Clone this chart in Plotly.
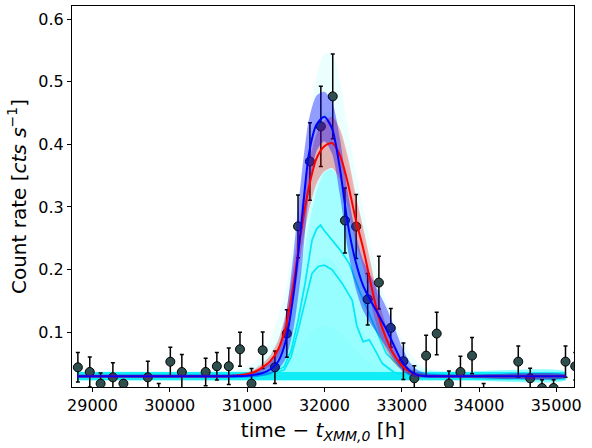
import plotly.graph_objects as go

# ---------------- observed light curve ----------------
t_obs = [28811, 28965, 29105, 29264, 29400, 29716, 29857, 30007, 30156, 30464,
         30609, 30763, 30908, 31057, 31202, 31360, 31514, 31659, 31813, 31954,
         32108, 32266, 32411, 32560, 32705, 32859, 33022, 33163, 33316, 33453,
         33611, 33760, 33910, 34060, 34508, 34662, 34815, 34965, 35119, 35245]
rate_obs = [0.044, 0.0366, 0.018, 0.028, 0.018, 0.028, 0.0, 0.053, 0.0366, 0.0366,
            0.0457, 0.0457, 0.0728, 0.018, 0.0712, 0.0441, 0.098, 0.269, 0.3726, 0.4285,
            0.4765, 0.2784, 0.2688, 0.1527, 0.1793, 0.1069, 0.0537, 0.0265, 0.0627, 0.0979,
            0.018, 0.0366, 0.0627, 0.0, 0.0531, 0.0265, 0.011, 0.011, 0.0531, 0.0457]
err_obs = [0.0235, 0.024, 0.017, 0.0235, 0.006, 0.0256, 0.018, 0.023, 0.028, 0.022,
           0.022, 0.029, 0.027, 0.024, 0.029, 0.026, 0.038, 0.050, 0.062, 0.064,
           0.0676, 0.052, 0.051, 0.041, 0.042, 0.031, 0.029, 0.020, 0.0325, 0.034,
           0.020, 0.025, 0.029, 0.018, 0.025, 0.016, 0.013, 0.013, 0.025, 0.022]

# ---------------- model grid ----------------
t_model = [28800, 30600, 30800, 31000, 31100, 31200, 31300, 31400, 31500, 31600,
           31700, 31800, 31900, 32000, 32100, 32200, 32300, 32400, 32500, 32600,
           32700, 32800, 32900, 33000, 33100, 33200, 33300, 33500, 33800, 35120]

blue_med = [0.0297, 0.0297, 0.0298, 0.0305, 0.032, 0.035, 0.041, 0.053, 0.086, 0.16,
            0.27, 0.385, 0.432, 0.444, 0.425, 0.362, 0.275, 0.215, 0.175, 0.15,
            0.128, 0.105, 0.079, 0.054, 0.039, 0.032, 0.030, 0.0297, 0.0297, 0.0297]
blue_lo = [0.027, 0.027, 0.027, 0.0275, 0.028, 0.030, 0.033, 0.040, 0.058, 0.105,
           0.195, 0.32, 0.39, 0.405, 0.385, 0.32, 0.235, 0.172, 0.135, 0.113,
           0.095, 0.076, 0.056, 0.040, 0.031, 0.028, 0.027, 0.027, 0.027, 0.027]
blue_hi = [0.0325, 0.0325, 0.033, 0.034, 0.037, 0.042, 0.052, 0.074, 0.125, 0.225,
           0.345, 0.44, 0.478, 0.484, 0.468, 0.41, 0.325, 0.26, 0.215, 0.19,
           0.165, 0.14, 0.11, 0.078, 0.053, 0.040, 0.035, 0.033, 0.0325, 0.0325]

red_med = [0.0297, 0.0297, 0.030, 0.033, 0.037, 0.044, 0.054, 0.072, 0.108, 0.176,
           0.262, 0.332, 0.378, 0.397, 0.402, 0.383, 0.34, 0.283, 0.235, 0.178,
           0.125, 0.09, 0.064, 0.047, 0.037, 0.032, 0.030, 0.0297, 0.0297, 0.0297]
red_lo = [0.0275, 0.0275, 0.028, 0.030, 0.033, 0.038, 0.046, 0.06, 0.088, 0.148,
          0.228, 0.295, 0.338, 0.357, 0.362, 0.343, 0.3, 0.246, 0.203, 0.148,
          0.1, 0.071, 0.051, 0.039, 0.032, 0.029, 0.028, 0.0275, 0.0275, 0.0275]
red_hi = [0.032, 0.032, 0.032, 0.036, 0.041, 0.05, 0.063, 0.086, 0.13, 0.205,
          0.298, 0.37, 0.418, 0.438, 0.444, 0.425, 0.382, 0.322, 0.268, 0.21,
          0.152, 0.11, 0.079, 0.057, 0.043, 0.036, 0.033, 0.032, 0.032, 0.032]

# posterior-sample envelopes (cyan cloud)
cyan_base_lo = [0.0235] * 30
cyan_base_hi = [0.0365] * 30
env_outer = [0.037, 0.037, 0.038, 0.045, 0.052, 0.065, 0.09, 0.125, 0.17, 0.25,
             0.34, 0.43, 0.51, 0.545, 0.545, 0.5, 0.43, 0.36, 0.3, 0.24,
             0.19, 0.15, 0.115, 0.09, 0.068, 0.052, 0.044, 0.038, 0.037, 0.037]
env_upper = [0.037, 0.037, 0.037, 0.040, 0.044, 0.052, 0.066, 0.09, 0.13, 0.19,
             0.27, 0.35, 0.415, 0.45, 0.45, 0.42, 0.37, 0.31, 0.255, 0.2,
             0.155, 0.118, 0.09, 0.07, 0.055, 0.046, 0.041, 0.038, 0.037, 0.037]
env_dense = [0.037, 0.037, 0.037, 0.037, 0.039, 0.043, 0.05, 0.065, 0.095, 0.14,
             0.205, 0.27, 0.325, 0.355, 0.36, 0.34, 0.3, 0.25, 0.2, 0.155,
             0.115, 0.085, 0.065, 0.052, 0.044, 0.04, 0.038, 0.037, 0.037, 0.037]
env_mid = [0.037, 0.037, 0.037, 0.037, 0.037, 0.038, 0.04, 0.048, 0.065, 0.095,
           0.14, 0.18, 0.21, 0.22, 0.215, 0.195, 0.165, 0.13, 0.1, 0.078,
           0.06, 0.048, 0.041, 0.038, 0.037, 0.037, 0.037, 0.037, 0.037, 0.037]
env_low = [0.037, 0.037, 0.037, 0.037, 0.037, 0.037, 0.038, 0.04, 0.048, 0.06,
           0.078, 0.095, 0.107, 0.11, 0.108, 0.1, 0.088, 0.072, 0.06, 0.05,
           0.043, 0.039, 0.037, 0.037, 0.037, 0.037, 0.037, 0.037, 0.037, 0.037]

# two highlighted sample curves
lineA_t = [28800, 31300, 31480, 31570, 31660, 31750, 31840, 31900, 31950, 32000,
           32100, 32200, 32320, 32450, 32560, 32670, 32800, 32980, 33200, 35120]
lineA_y = [0.030, 0.033, 0.045, 0.071, 0.119, 0.178, 0.247, 0.265, 0.271, 0.262,
           0.247, 0.232, 0.21, 0.167, 0.135, 0.103, 0.066, 0.045, 0.034, 0.030]
lineB_t = [28800, 31300, 31480, 31570, 31660, 31750, 31840, 31920, 32000, 32100,
           32230, 32360, 32420, 32500, 32580, 32640, 32750, 32900, 33100, 35120]
lineB_y = [0.030, 0.032, 0.040, 0.061, 0.103, 0.151, 0.194, 0.205, 0.207, 0.2,
           0.178, 0.151, 0.11, 0.085, 0.088, 0.075, 0.05, 0.036, 0.031, 0.030]

x_range = [28735, 35229]
y_range = [0.0126, 0.6208]
x_ticks = [29000, 30000, 31000, 32000, 33000, 34000, 35000]
y_ticks = [0.1, 0.2, 0.3, 0.4, 0.5, 0.6]

fig = go.Figure()


def band(t, lo, hi, color, smooth=True):
    fig.add_trace(go.Scatter(
        x=list(t) + list(t)[::-1], y=list(hi) + list(lo)[::-1],
        fill="toself", fillcolor=color, mode="lines",
        line=dict(width=0, color=color, shape="spline" if smooth else "linear",
                  smoothing=0.7),
        hoverinfo="skip", showlegend=False))


# cyan cloud of posterior samples
band(t_model, cyan_base_lo, env_outer, "rgba(0,255,255,0.08)")
band(t_model, cyan_base_lo, env_upper, "rgba(0,255,255,0.10)")
band(t_model, cyan_base_lo, env_dense, "rgba(0,250,255,0.22)")
band(t_model, cyan_base_lo, env_mid, "rgba(0,250,255,0.08)")
band(t_model, cyan_base_lo, env_low, "rgba(0,250,255,0.06)")
band(t_model, cyan_base_lo, cyan_base_hi, "rgba(0,235,245,0.88)", smooth=False)

for tt, yy in ((lineA_t, lineA_y), (lineB_t, lineB_y)):
    fig.add_trace(go.Scatter(x=tt, y=yy, mode="lines",
                             line=dict(color="rgba(0,232,245,0.95)", width=1.8),
                             hoverinfo="skip", showlegend=False))

# observations
fig.add_trace(go.Scatter(
    x=t_obs, y=rate_obs, mode="markers",
    marker=dict(size=9, color="#2F4F4F", line=dict(color="black", width=1)),
    error_y=dict(type="data", array=err_obs, color="black", thickness=1.5, width=2),
    showlegend=False))

# credible bands
band(t_model, red_lo, red_hi, "rgba(255,0,0,0.30)")
band(t_model, blue_lo, blue_hi, "rgba(0,0,255,0.38)")

fig.add_trace(go.Scatter(x=t_model, y=red_med, mode="lines",
                         line=dict(color="red", width=2, shape="spline", smoothing=0.7),
                         showlegend=False))
fig.add_trace(go.Scatter(x=t_model, y=blue_med, mode="lines",
                         line=dict(color="blue", width=2, shape="spline", smoothing=0.7),
                         showlegend=False))

axis_common = dict(showline=True, linecolor="black", linewidth=1, mirror=True,
                   ticks="outside", ticklen=4, tickwidth=1, tickcolor="black",
                   showgrid=False, zeroline=False, automargin=False,
                   tickfont=dict(family="DejaVu Sans", size=16, color="black"))

fig.update_xaxes(range=x_range, tickvals=x_ticks,
                 ticktext=[str(v) for v in x_ticks],
                 title=dict(text="time − <i>t</i><sub><i>XMM,0</i></sub> [h]",
                            font=dict(family="DejaVu Sans", size=20, color="black"),
                            standoff=8),
                 **axis_common)
fig.update_yaxes(range=y_range, tickvals=y_ticks,
                 ticktext=[f"{v:.1f}" for v in y_ticks],
                 title=dict(text="Count rate [<i>cts s</i><sup>−1</sup>]",
                            font=dict(family="DejaVu Sans", size=20, color="black"),
                            standoff=6),
                 **axis_common)

fig.update_layout(width=592, height=448,
                  margin=dict(l=72, r=18, t=6, b=61, pad=0),
                  plot_bgcolor="white", paper_bgcolor="white",
                  showlegend=False)

fig.write_html("out.html", config={"displayModeBar": False},
               post_script="document.body.style.margin='0px';document.body.style.padding='0px';")
